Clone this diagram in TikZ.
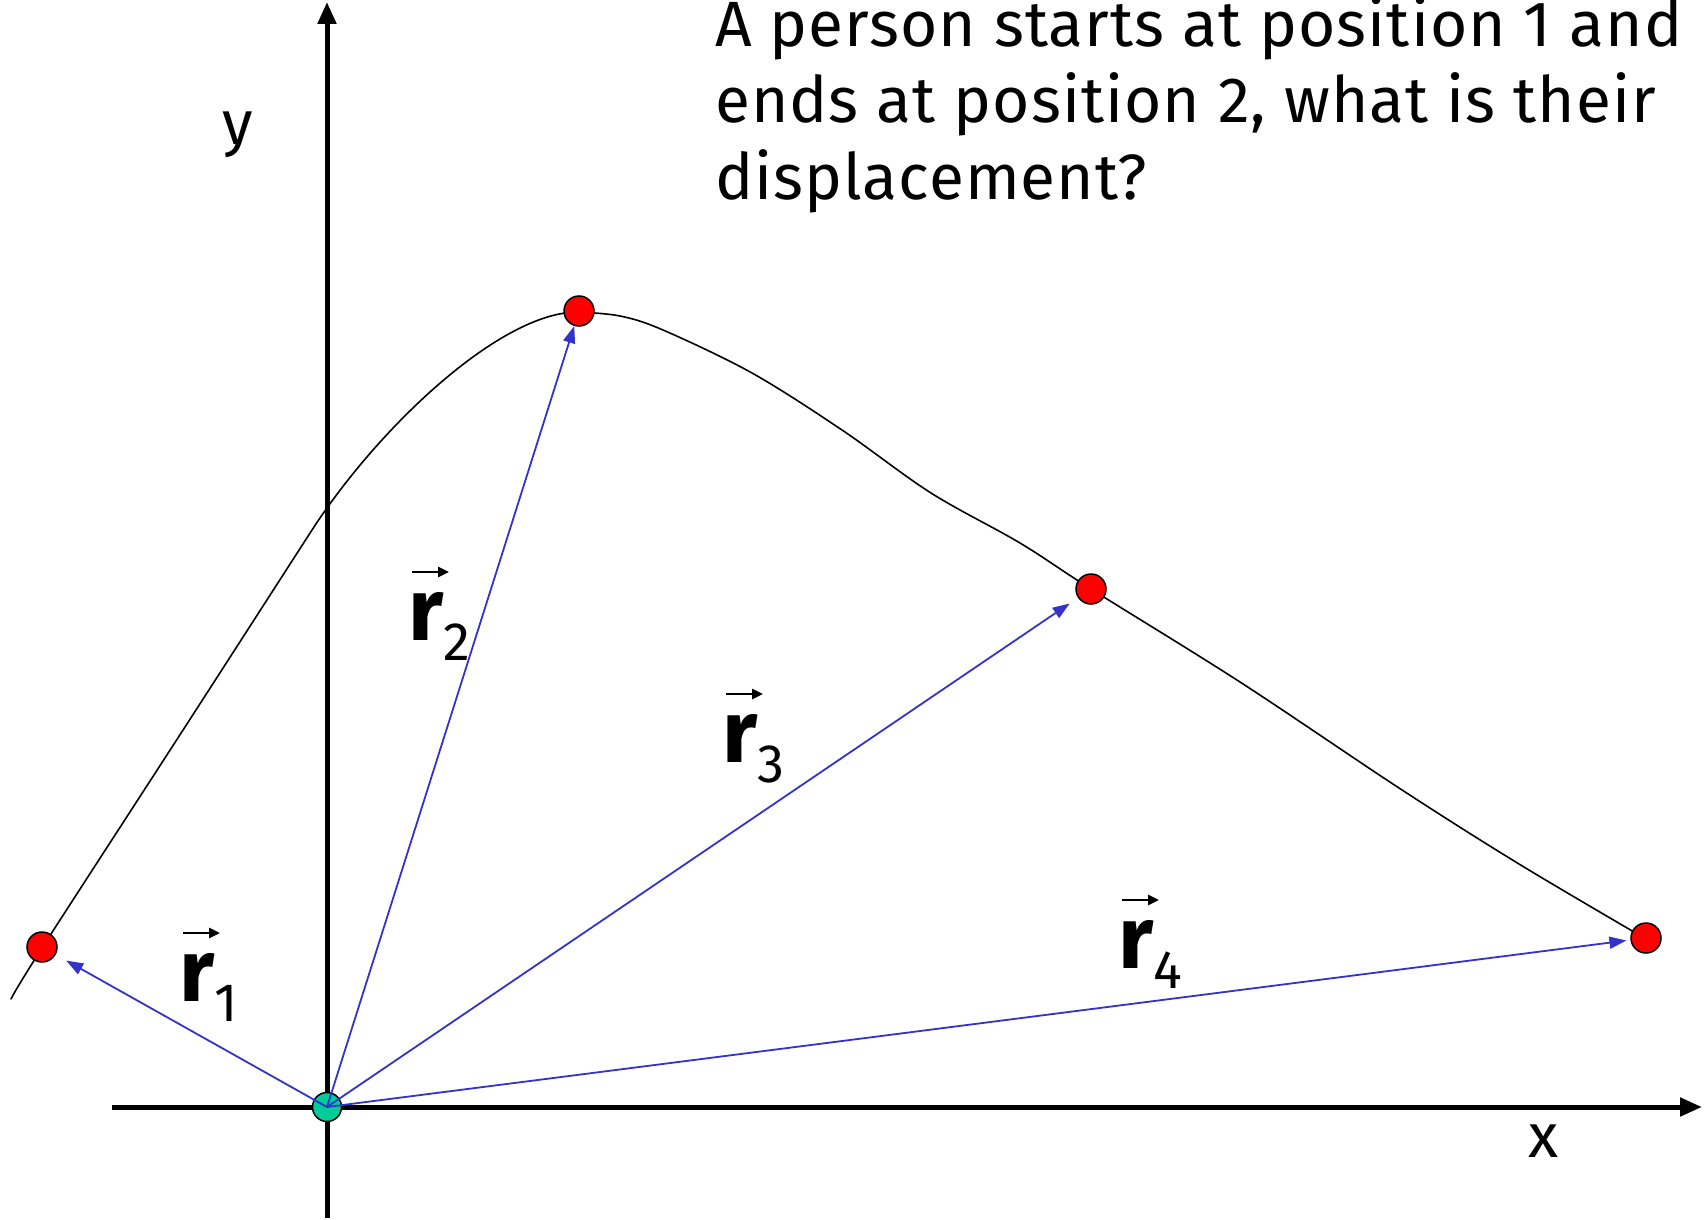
\documentclass[tikz,border=0pt]{standalone}
\usepackage{fontspec}
\setmainfont{Fira Sans}
\usetikzlibrary{arrows.meta}
\definecolor{vblue}{RGB}{51,51,204}
\definecolor{origgreen}{RGB}{0,204,153}
\newcommand{\rlab}[1]{%
  {\fontsize{88}{88}\selectfont\bfseries r}%
  \raisebox{-20pt}{\fontsize{54}{54}\selectfont #1}}
\begin{document}
\begin{tikzpicture}[x=1pt,y=-1pt,
  axisline/.style={line width=5pt,-{Triangle[length=22pt,width=18pt]}},
  vecarrow/.style={draw=vblue,line width=1.8pt,-{Triangle[length=17pt,width=12pt]}},
  overarrow/.style={draw=black,line width=2.6pt,-{Triangle[length=11pt,width=10pt]}},
  reddot/.style={circle,draw=black,line width=1.5pt,fill=red,minimum size=30pt,inner sep=0pt},
  origdot/.style={circle,draw=black,line width=1.5pt,fill=origgreen,minimum size=29pt,inner sep=0pt},
  pathline/.style={draw=black,line width=1.6pt,line join=round,line cap=round},
  titletext/.style={anchor=base west,inner sep=0pt,font=\fontsize{64}{64}\selectfont\addfontfeatures{LetterSpace=1.6}},
  axislabel/.style={anchor=base,inner sep=0pt,font=\fontsize{62}{62}\selectfont},
  vlabel/.style={anchor=base west,inner sep=0pt}]
\useasboundingbox (0,0) rectangle (1706,1220);
% trajectory
\draw[pathline] plot[smooth,tension=0.55] coordinates {(11,999) (42,948) (185,727) (312,530)}
  .. controls (378,428) and (500,312) .. (578,312);
\draw[pathline] plot[smooth,tension=0.55] coordinates {(578,312) (620,316) (663,330) (752,373) (842,430) (931,493) (1020,543) (1091,589) (1240,682) (1399,788) (1519,864) (1646,939)};
% axes
\coordinate (xs) at (112,1107);
\coordinate (xe) at (1702,1107);
\coordinate (ys) at (327,1218);
\coordinate (ye) at (327,2);
\draw[axisline] (xs) -- (xe);
\draw[axisline] (ys) -- (ye);
\node[axislabel] (ylab) at (238,145) {y};
\node[axislabel] (xlab) at (1544,1157) {x};
% points
\node[origdot] (O) at (327,1107) {};
\node[reddot] (p1) at (42,947) {};
\node[reddot] (p2) at (579,311) {};
\node[reddot] (p3) at (1091,589) {};
\node[reddot] (p4) at (1646,938) {};
% position vectors
\draw[vecarrow,shorten >=12pt] (O.center) -- (p1);
\draw[vecarrow] (O.center) -- (p2);
\draw[vecarrow,shorten >=10pt] (O.center) -- (p3);
\draw[vecarrow,shorten >=4pt] (O.center) -- (p4);
% vector labels
\node[vlabel] (l1) at (179,1001) {\rlab{1}};
\node[vlabel] (l2) at (408,640) {\rlab{2}};
\node[vlabel] (l3) at (722,762) {\rlab{3}};
\node[vlabel] (l4) at (1118,968) {\rlab{4}};
\foreach \l in {l1,l2,l3,l4}
  \draw[overarrow] ([shift={(4,-68)}]\l.base west) -- ++(37,0);
% question
\node[titletext] (t1) at (715,47) {A person starts at position 1 and};
\node[titletext] (t2) at (715,123) {ends at position 2, what is their};
\node[titletext] (t3) at (715,200) {displacement?};
\end{tikzpicture}
\end{document}
